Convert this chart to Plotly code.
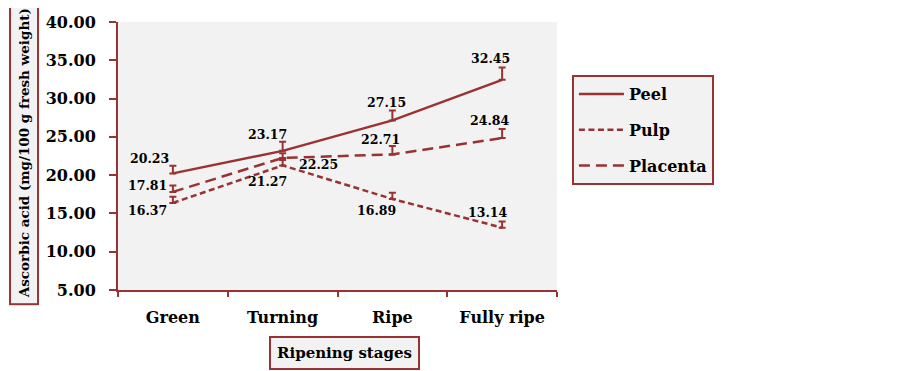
import plotly.graph_objects as go

stages = ["Green", "Turning", "Ripe", "Fully ripe"]
peel = [20.23, 23.17, 27.15, 32.45]
pulp = [16.37, 21.27, 16.89, 13.14]
placenta = [17.81, 22.25, 22.71, 24.84]
peel_err = [1.0, 1.2, 1.3, 1.6]
pulp_err = [0.8, 0.7, 0.8, 0.8]
placenta_err = [0.85, 0.6, 1.1, 1.2]

# label offsets (px) for value annotations
peel_off = [(-23, 15), (-15, 16), (-6, 18), (-12, 21)]
pulp_off = [(-25, -8), (-15, -16), (-16, -12), (-15, 15)]
placenta_off = [(-25, 6), (36, -7), (-12, 15), (-13, 18)]

RED = "#993333"
FONT = "DejaVu Serif"

fig = go.Figure()
series = [
    ("Peel", peel, peel_err, "solid", peel_off),
    ("Pulp", pulp, pulp_err, "6px,3.5px", pulp_off),
    ("Placenta", placenta, placenta_err, "11px,6px", placenta_off),
]
for name, vals, errs, dash, off in series:
    fig.add_trace(go.Scatter(
        x=stages, y=vals, mode="lines", name=name, legendgroup=name,
        line=dict(color=RED, width=2.5, dash=dash),
        error_y=dict(type="data", array=errs, arrayminus=[0] * len(errs),
                     symmetric=False, color=RED, thickness=2, width=3.5),
    ))
    for xv, yv, (dx, dy) in zip(stages, vals, off):
        fig.add_annotation(x=xv, y=yv, text=f"{yv:.2f}", showarrow=False,
                           xshift=dx, yshift=dy,
                           font=dict(family=FONT, size=12.5, color="black", weight="bold"))

# boxed axis titles
fig.add_annotation(xref="paper", yref="paper", x=-0.215, y=0.509,
                   xanchor="center", yanchor="middle",
                   text="Ascorbic acid (mg/100 g fresh weight)", textangle=-90,
                   showarrow=False, font=dict(family=FONT, size=13.5, color="black", weight="bold"),
                   bordercolor=RED, borderwidth=2, borderpad=5, bgcolor="#f2f2f2")
fig.add_annotation(xref="paper", yref="paper", x=0.517, y=-0.235,
                   xanchor="center", yanchor="middle",
                   text="Ripening stages", showarrow=False,
                   font=dict(family=FONT, size=15, color="black", weight="bold"),
                   bordercolor=RED, borderwidth=2, borderpad=6, bgcolor="#f2f2f2")

fig.update_layout(
    width=903, height=371,
    margin=dict(l=110, r=354, t=14, b=89),
    paper_bgcolor="white", plot_bgcolor="#f2f2f2",
    font=dict(family=FONT, color="black"),
    legend=dict(x=1.034, y=0.802, xanchor="left", yanchor="top",
                bgcolor="#f2f2f2", bordercolor=RED, borderwidth=2,
                font=dict(family=FONT, size=16, color="black", weight="bold"),
                tracegroupgap=12, itemwidth=45, traceorder="grouped"),
    xaxis=dict(type="category", range=[-0.5, 3.5], showgrid=False, automargin=False,
               showline=True, linecolor=RED, linewidth=2,
               ticks="outside", tickson="boundaries", ticklen=5, tickwidth=2, tickcolor=RED,
               ticklabelstandoff=12,
               tickfont=dict(family=FONT, size=16, color="black", weight="bold")),
    yaxis=dict(range=[5, 40], dtick=5, tickformat=".2f", showgrid=False, zeroline=False,
               automargin=False,
               showline=True, linecolor=RED, linewidth=2,
               ticks="outside", ticklen=7, tickwidth=2, tickcolor=RED,
               ticklabelstandoff=10,
               tickfont=dict(family=FONT, size=16, color="black", weight="bold")),
)

fig.write_html("out.html")
